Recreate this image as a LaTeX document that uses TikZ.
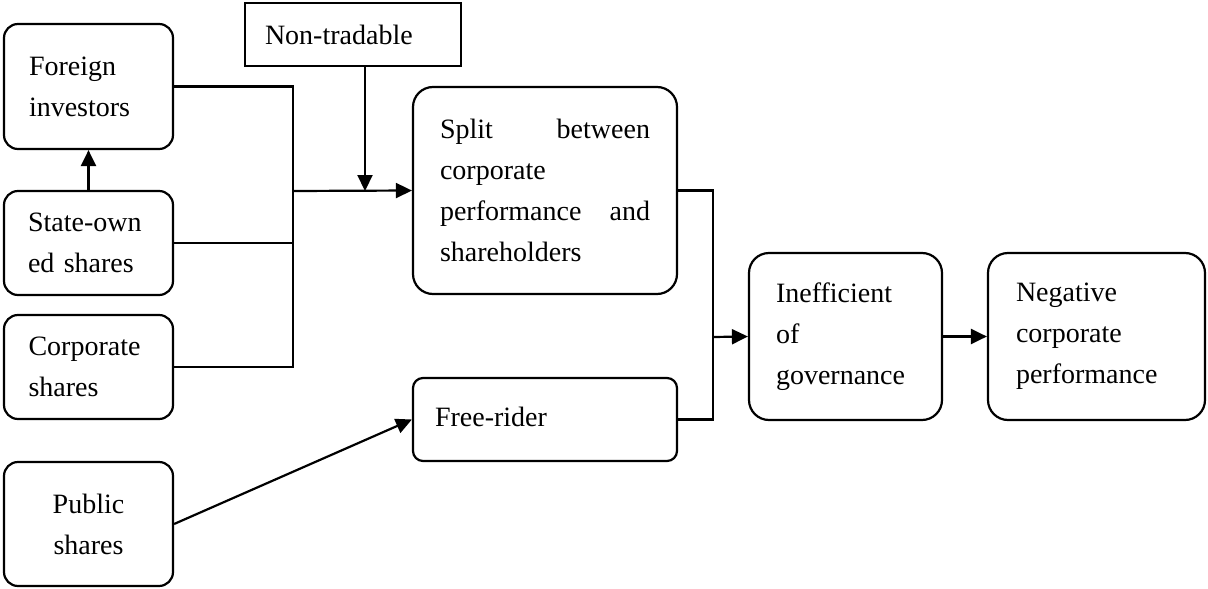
\documentclass[tikz,border=0pt]{standalone}
\usepackage{fontspec}
\setmainfont{Liberation Serif}
\usetikzlibrary{arrows.meta}
\begin{document}
\begin{tikzpicture}[x=1pt,y=-1pt,
  every node/.style={font=\fontsize{28}{41}\selectfont},
  box/.style={draw, line width=2.2pt, rounded corners=14pt, inner sep=0pt, align=left},
  bigbox/.style={box, rounded corners=20pt},
  sqbox/.style={draw, line width=2.2pt, inner sep=0pt, align=left},
  conn/.style={line width=2.2pt},
  arr/.style={conn, -{Triangle[length=16pt,width=15pt]}}]
\useasboundingbox (0,0) rectangle (1208,589);
\node[box, minimum width=169pt, minimum height=125pt, text width=119pt] (foreign) at (88.5,86.5) {Foreign\\investors};
\node[box, minimum width=169pt, minimum height=104pt, text width=121pt] (state) at (88.5,243) {State-own\\ed shares};
\node[box, minimum width=169pt, minimum height=104pt, text width=120pt] (corp) at (88.5,367) {Corporate\\shares};
\node[box, minimum width=169pt, minimum height=124pt, align=center] (public) at (88.5,524) {Public\\shares};
\node[sqbox, minimum width=216pt, minimum height=63pt, text width=176pt] (nontrad) at (353,34.5) {Non-tradable};
\node[bigbox, minimum width=264pt, minimum height=207pt, text width=210pt] (split) at (545,190.5) {Split\hfill between\\corporate\\performance\hfill and\\shareholders};
\node[box, rounded corners=10pt, minimum width=264pt, minimum height=83pt, text width=220pt] (free) at (545,419.5) {\raisebox{6pt}{Free-rider}};
\node[bigbox, minimum width=193pt, minimum height=167pt, text width=139pt] (ineff) at (845.5,336.5) {Inefficient\\of\\governance};
\node[bigbox, minimum width=217pt, minimum height=167pt, text width=161pt] (neg) at (1096.5,336.5) {Negative\\corporate\\performance};
\coordinate (j1) at (293,191);
\coordinate (m) at (365,191);
\coordinate (j2) at (713,337);
\draw[arr] (state.north) -- (foreign.south);
\draw[conn] (foreign.east) -| (j1) |- (corp.east);
\draw[conn] (state.east) -- (state.east -| j1);
\draw[arr] (j1) -- (split.west);
\draw[arr] (nontrad.south -| m) -- (m);
\draw[conn] (split.east) -| (j2) |- (free.east);
\draw[arr] (j2) -- (ineff.west);
\draw[arr] (ineff.east) -- (neg.west);
\draw[arr] (public.east) -- (free.west);
\end{tikzpicture}
\end{document}
